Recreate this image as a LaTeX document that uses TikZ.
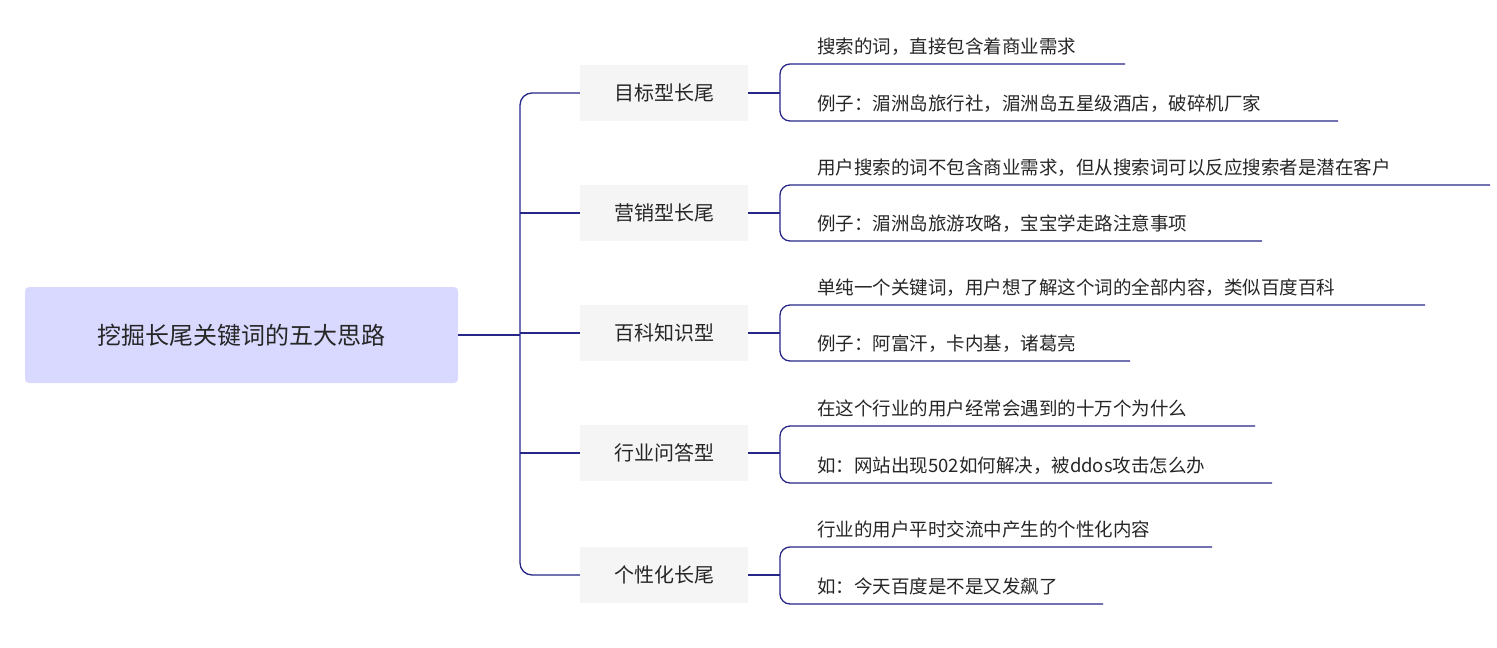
\documentclass[tikz,border=0pt]{standalone}
\usepackage{fontspec}
\setmainfont{Noto Sans CJK SC}
\begin{document}
\begin{tikzpicture}[x=1pt,y=-1pt,
  ln/.style={draw=blue!45!black!85, line width=1.3pt},
  root/.style={fill=blue!15!white, rounded corners=4pt, minimum width=433pt, minimum height=96pt, font=\fontsize{24}{28}\selectfont, text=black!85},
  br/.style={fill=black!4, minimum width=168pt, minimum height=56pt, font=\fontsize{20}{24}\selectfont, text=black!85},
  ch/.style={anchor=base west, font=\fontsize{18.5}{22}\selectfont, text=black!85, inner sep=0pt}]
\useasboundingbox (0,0) rectangle (1497,648);
\node[root] (r) at (241.5,335) {挖掘长尾关键词的五大思路};
\coordinate (t) at (520,335);
\draw[ln] (r.east) -- (t);
\foreach \i/\y/\lab/\ta/\ua/\ea/\tb/\ub/\eb in {
 1/93/目标型长尾/搜索的词，直接包含着商业需求/64/1125/例子：湄洲岛旅行社，湄洲岛五星级酒店，破碎机厂家/121/1338,
 2/213/营销型长尾/用户搜索的词不包含商业需求，但从搜索词可以反应搜索者是潜在客户/185/1490/例子：湄洲岛旅游攻略，宝宝学走路注意事项/241/1262,
 3/333/百科知识型/单纯一个关键词，用户想了解这个词的全部内容，类似百度百科/305/1425/例子：阿富汗，卡内基，诸葛亮/361/1130,
 4/453/行业问答型/在这个行业的用户经常会遇到的十万个为什么/426/1255/如：网站出现502如何解决，被ddos攻击怎么办/483/1272,
 5/575/个性化长尾/行业的用户平时交流中产生的个性化内容/547/1212/如：今天百度是不是又发飙了/604/1103}{
  \node[br] (b\i) at (664,\y) {\lab};
  \coordinate (s\i) at (520,\y);
  \coordinate (k\i) at (780,\y);
  \coordinate (ae\i) at (\ea,\ua);
  \coordinate (as\i) at (780,\ua);
  \coordinate (be\i) at (\eb,\ub);
  \coordinate (bs\i) at (780,\ub);
  \draw[ln] (b\i.east) -- (k\i);
  \draw[ln, rounded corners=10pt] (ae\i) -- (as\i) -- (bs\i) -- (be\i);
  \node[ch] (ca\i) at (817,\ua-11) {\ta};
  \node[ch] (cb\i) at (817,\ub-11) {\tb};
}
\draw[ln, rounded corners=12pt] (b1.west) -- (s1) -- (s5) -- (b5.west);
\draw[ln] (s2) -- (b2.west);
\draw[ln] (s3) -- (b3.west);
\draw[ln] (s4) -- (b4.west);
\end{tikzpicture}
\end{document}
